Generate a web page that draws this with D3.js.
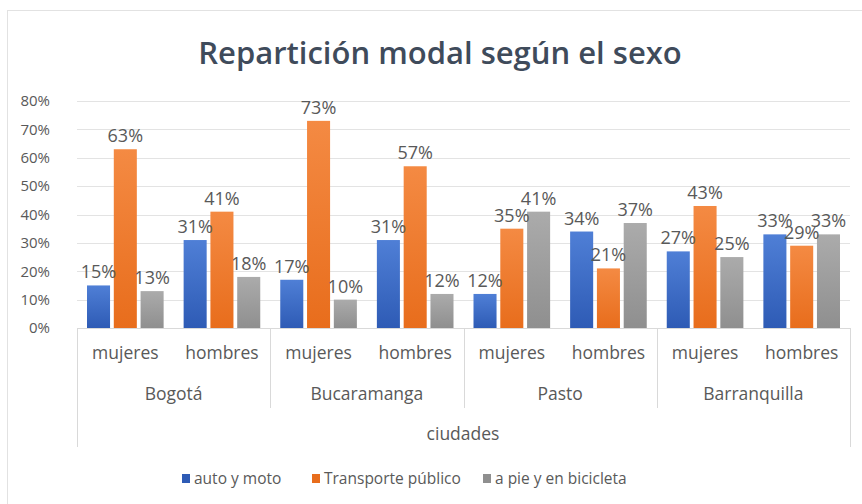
<!DOCTYPE html>
<html>
<head>
<meta charset="utf-8">
<script src="https://cdn.jsdelivr.net/npm/d3@7"></script>
<style>
  body{margin:0;background:#fff;}
  svg text{font-family:"Open Sans","Noto Sans",sans-serif;}
</style>
</head>
<body>
<script>

// datos
var ciudades=["Bogotá","Bucaramanga","Pasto","Barranquilla"];
var sexos=["mujeres","hombres"];
var series=["auto y moto","Transporte público","a pie y en bicicleta"];
var autoMoto=[15,31,17,31,12,34,27,33];
var transporte=[63,41,73,57,35,21,43,29];
var aPie=[13,18,10,12,41,37,25,33];
var yTicks=[0,10,20,30,40,50,60,70,80];

var colores=[["#4f7fd6","#2e5bb5"],["#f48a43","#e86d1c"],["#ababab","#8f8f8f"]];

var width=862,height=504;
var margin={top:101,left:77,right:12,bottom:176};

var svg=d3.select("body").append("svg")
	.attr("width",width)
	.attr("height",height);

// borde
svg.append("rect")
	.attr("x",7.5).attr("y",10.5)
	.attr("width",width).attr("height",height)
	.attr("fill","#fff")
	.attr("stroke","#e2e2e2");

var defs=svg.append("defs");
colores.forEach(function(c,i){
	var g=defs.append("linearGradient").attr("id","g"+i)
		.attr("x1",0).attr("y1",0).attr("x2",0).attr("y2",1);
	g.append("stop").attr("offset","0%").attr("stop-color",c[0]);
	g.append("stop").attr("offset","100%").attr("stop-color",c[1]);
});

svg.append("text")
	.attr("x",440).attr("y",64)
	.attr("text-anchor","middle")
	.attr("font-size",31)
	.attr("font-weight",600)
	.attr("fill","#3f4b5b")
	.text("Repartición modal según el sexo");

var y0=328;
var y=d3.scaleLinear().domain([0,80]).range([y0,margin.top]);

var grupos=[];
ciudades.forEach(function(c){
	sexos.forEach(function(s){ grupos.push(c+"|"+s); });
});

var x=d3.scaleBand().domain(grupos).range([77,850]);
var xc=d3.scaleBand().domain(ciudades).range([77,850]);
var xs=d3.scaleBand().domain(series).range([10,x.bandwidth()-10]).paddingInner(0.14);

// lineas de division
svg.append("g").selectAll("line")
	.data(yTicks.slice(1))
	.enter().append("line")
	.attr("x1",77).attr("x2",850)
	.attr("y1",function(d){return Math.round(y(d))+0.5;})
	.attr("y2",function(d){return Math.round(y(d))+0.5;})
	.attr("stroke","#e3e3e3");

// eje y
var yAxis=d3.axisLeft(y).tickValues(yTicks).tickFormat(function(d){return d+"%";}).tickSize(0).tickPadding(27);
var gy=svg.append("g").attr("transform","translate(77,0)").call(yAxis);
gy.select(".domain").remove();
gy.selectAll("text").attr("font-size",15).attr("fill","#595959")
	.attr("font-family","Open Sans, sans-serif");

// barras
var datos=[autoMoto,transporte,aPie];
var filas=[];
grupos.forEach(function(g,i){
	series.forEach(function(s,j){
		filas.push({grupo:g,serie:s,idx:j,v:datos[j][i]});
	});
});

var bars=svg.append("g");
bars.selectAll("rect")
	.data(filas)
	.enter().append("rect")
	.attr("x",function(d){return x(d.grupo)+xs(d.serie);})
	.attr("y",function(d){return y(d.v);})
	.attr("width",xs.bandwidth())
	.attr("height",function(d){return y0-y(d.v);})
	.attr("fill",function(d){return "url(#g"+d.idx+")";});

bars.selectAll("text")
	.data(filas)
	.enter().append("text")
	.attr("x",function(d){return x(d.grupo)+xs(d.serie)+xs.bandwidth()/2;})
	.attr("y",function(d){return y(d.v)-7;})
	.attr("text-anchor","middle")
	.attr("font-size",18)
	.attr("fill","#595959")
	.text(function(d){return d.v+"%";});

// eje x
svg.append("line")
	.attr("x1",77).attr("x2",850)
	.attr("y1",y0+0.5).attr("y2",y0+0.5)
	.attr("stroke","#d9d9d9");

var sep=svg.append("g");
ciudades.forEach(function(c,i){
	var xx=Math.round(xc(c))+0.5;
	sep.append("line")
		.attr("x1",xx).attr("x2",xx)
		.attr("y1",y0).attr("y2",i==0?447:408)
		.attr("stroke","#d9d9d9");
});
sep.append("line")
	.attr("x1",850.5).attr("x2",850.5)
	.attr("y1",y0).attr("y2",447)
	.attr("stroke","#d9d9d9");

svg.append("g").selectAll("text")
	.data(grupos)
	.enter().append("text")
	.attr("x",function(d){return x(d)+x.bandwidth()/2;})
	.attr("y",359)
	.attr("text-anchor","middle")
	.attr("font-size",17.5)
	.attr("fill","#595959")
	.text(function(d){return d.split("|")[1];});

svg.append("g").selectAll("text")
	.data(ciudades)
	.enter().append("text")
	.attr("x",function(d){return xc(d)+xc.bandwidth()/2;})
	.attr("y",400)
	.attr("text-anchor","middle")
	.attr("font-size",17.5)
	.attr("fill","#595959")
	.text(function(d){return d;});

svg.append("text")
	.attr("x",463).attr("y",440)
	.attr("text-anchor","middle")
	.attr("font-size",17.5)
	.attr("fill","#595959")
	.text("ciudades");

// leyenda
var legX=[182,312,483];
var leg=svg.append("g");
series.forEach(function(s,i){
	leg.append("rect")
		.attr("x",legX[i]).attr("y",474)
		.attr("width",8).attr("height",9)
		.attr("fill",colores[i][1]);
	leg.append("text")
		.attr("x",legX[i]+12).attr("y",484)
		.attr("font-size",15.5)
		.attr("fill","#595959")
		.text(s);
});

</script>
</body>
</html>
